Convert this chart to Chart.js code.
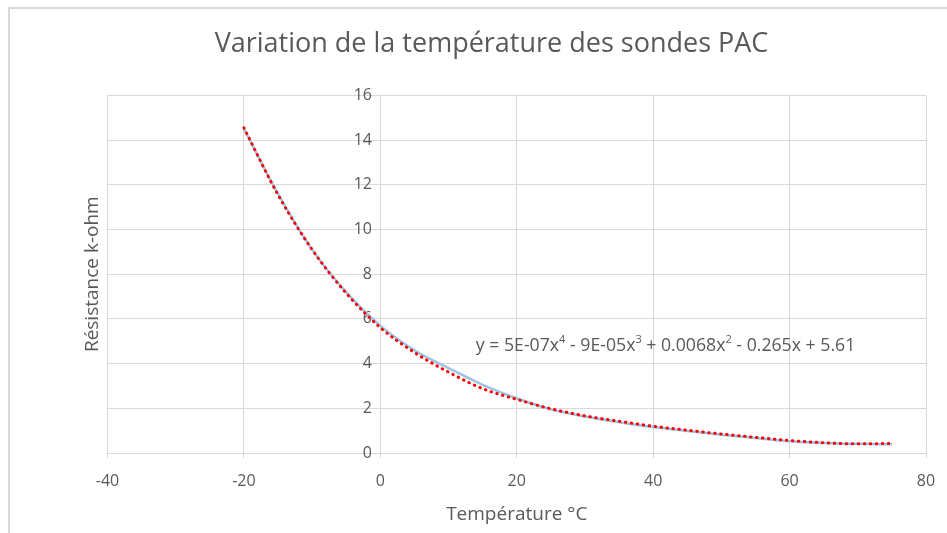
<!DOCTYPE html>
<html>
<head>
<meta charset="utf-8">
<script src="https://cdn.jsdelivr.net/npm/chart.js@4.4.1/dist/chart.umd.min.js"></script>
<style>
  html, body { margin: 0; padding: 0; background: #fff; overflow: hidden; }
  #frame { position: absolute; left: 8px; top: 7px; width: 1000px; height: 600px;
           border-left: 2px solid #d9d9d9; border-top: 2px solid #d9d9d9; }
  #box { position: absolute; left: 10px; top: 9px; width: 963px; height: 524px; }
</style>
</head>
<body>
<div id="frame"></div>
<div id="box"><canvas id="chart"></canvas></div>
<script>
// temperatures (°C) and resistance (k-ohm)
var temps = [-20, -15, -10, -5, 0, 5, 10, 15, 20, 25, 30, 35, 40, 45, 50, 55, 60, 65, 70, 75];
var mesures = [14.5, 11.6, 9.1, 7.2, 5.7, 4.6, 3.8, 3.05, 2.45, 1.95, 1.63, 1.38, 1.16, 0.98, 0.82, 0.67, 0.53, 0.45, 0.41, 0.39];
var tendance = [14.55, 11.55, 9.1, 7.15, 5.61, 4.5, 3.62, 2.88, 2.4, 1.98, 1.66, 1.42, 1.2, 1.02, 0.85, 0.7, 0.56, 0.46, 0.41, 0.43];
var xTicks = [-40, -20, 0, 20, 40, 60, 80];
var yTicks = [0, 2, 4, 6, 8, 10, 12, 14, 16];
var equation = [["y = 5E-07x", 0], ["4", 1], [" - 9E-05x", 0], ["3", 1], [" + 0.0068x", 0], ["2", 1], [" - 0.265x + 5.61", 0]];

var gris = '#595959';
var grille = '#d9d9d9';
var police = "'Open Sans', sans-serif";

function points(vals) {
    var p = [];
    for (var i = 0; i < temps.length; i++) {
        p.push({ x: temps[i], y: vals[i] });
    }
    return p;
}

// draws the trendline equation, anchored on data coordinates
var eqPlugin = {
    id: 'eq',
    afterDatasetsDraw: function (chart) {
        var ctx = chart.ctx;
        var x = chart.scales.x.getPixelForValue(14);
        var y = chart.scales.y.getPixelForValue(4.8);
        ctx.save();
        ctx.fillStyle = gris;
        ctx.textBaseline = 'middle';
        ctx.textAlign = 'left';
        for (var i = 0; i < equation.length; i++) {
            var sup = equation[i][1];
            ctx.font = (sup ? 11 : 17.7) + 'px ' + police;
            ctx.fillText(equation[i][0], x, sup ? y - 6 : y);
            x += ctx.measureText(equation[i][0]).width;
        }
        ctx.restore();
    }
};

new Chart(document.getElementById('chart').getContext('2d'), {
    type: 'scatter',
    data: {
        datasets: [{
            label: 'Mesures',
            data: points(mesures),
            showLine: true,
            borderColor: '#9dc3e6',
            borderWidth: 2.5,
            pointRadius: 0,
            cubicInterpolationMode: 'monotone',
            order: 2
        }, {
            label: 'Poly.',
            data: points(tendance),
            showLine: true,
            borderColor: '#ff0000',
            borderWidth: 3,
            borderDash: [0.5, 5.5],
            borderCapStyle: 'round',
            pointRadius: 0,
            cubicInterpolationMode: 'monotone',
            order: 1
        }]
    },
    options: {
        responsive: true,
        maintainAspectRatio: false,
        animation: false,
        devicePixelRatio: 1,
        layout: { padding: 0 },
        plugins: {
            legend: { display: false },
            tooltip: { enabled: false },
            title: {
                display: true,
                text: 'Variation de la température des sondes PAC',
                color: gris,
                font: { family: police, size: 27, weight: 'normal' },
                padding: { top: 19, bottom: 35 }
            }
        },
        scales: {
            x: {
                type: 'linear',
                position: 'bottom',
                min: -40, max: 80,
                afterBuildTicks: function (axis) { axis.ticks = xTicks.map(function (v) { return { value: v }; }); },
                afterFit: function (axis) { axis.height = 80; },
                grid: { color: grille, tickColor: grille, tickLength: 5, lineWidth: 1 },
                border: { color: grille },
                ticks: { color: gris, font: { family: police, size: 16 }, padding: 14, maxRotation: 0 },
                title: {
                    display: true, text: 'Température °C', color: gris,
                    font: { family: police, size: 19 }, padding: { top: 0, bottom: 7 }
                }
            },
            y: {
                type: 'linear',
                position: { x: 0 },
                min: 0, max: 16,
                afterBuildTicks: function (axis) { axis.ticks = yTicks.map(function (v) { return { value: v }; }); },
                grid: { color: grille, drawTicks: false, lineWidth: 1 },
                border: { color: grille },
                ticks: {
                    color: gris, font: { family: police, size: 16 },
                    callback: function (v) { return v + '  '; }
                }
            },
            yTitre: {
                type: 'linear',
                position: 'left',
                min: 0, max: 16,
                afterFit: function (axis) { axis.width = 97.5; },
                grid: { display: false },
                border: { display: false },
                ticks: { display: false },
                title: {
                    display: true, text: 'Résistance k-ohm', color: gris,
                    font: { family: police, size: 19 }, padding: { top: 71, bottom: 0 }
                }
            },
            marge: {
                type: 'linear',
                position: 'right',
                afterFit: function (axis) { axis.width = 47; },
                grid: { display: false },
                border: { display: false },
                ticks: { display: false }
            }
        }
    },
    plugins: [eqPlugin]
});
</script>
</body>
</html>
